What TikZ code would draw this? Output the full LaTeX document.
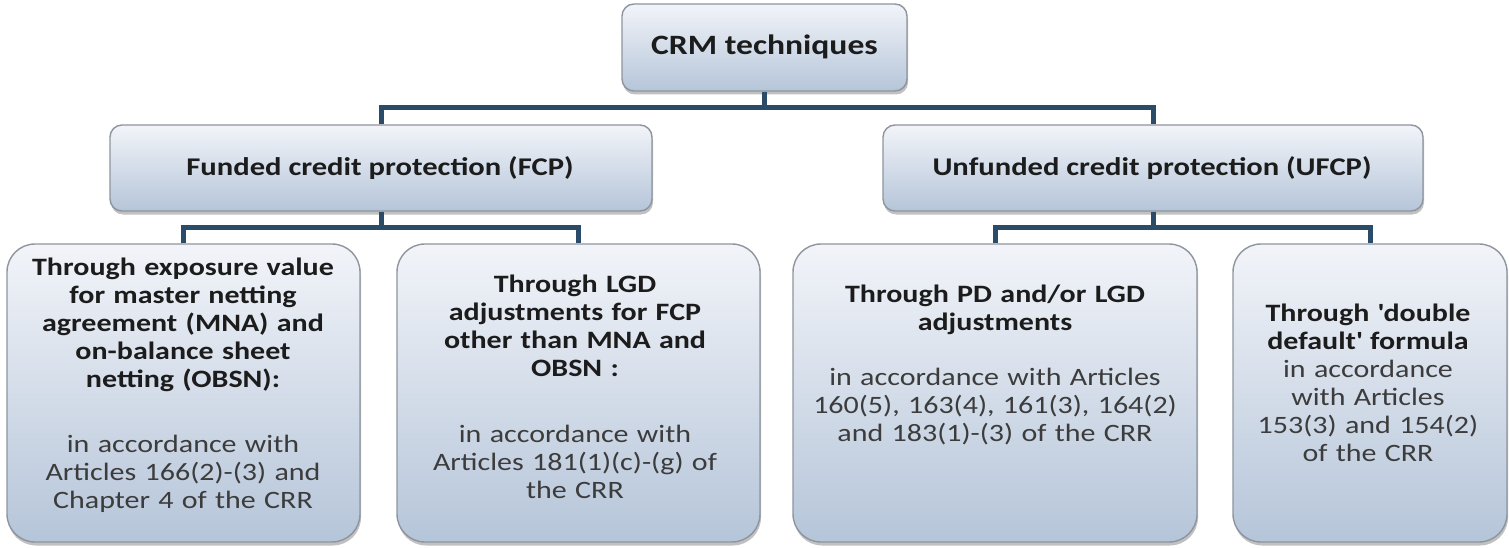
\documentclass[tikz,border=0pt]{standalone}
\usepackage{fontspec}
\setmainfont{Carlito}[FakeStretch=1.2]
\usetikzlibrary{shadows}

\definecolor{boxtop}{HTML}{F2F4F9}
\definecolor{boxbot}{HTML}{B5C5D9}
\definecolor{boxline}{HTML}{8E959E}
\definecolor{linkcol}{HTML}{2B4C68}
\definecolor{headtxt}{HTML}{1C1C1C}
\definecolor{bodytxt}{HTML}{3C3C3C}

\tikzset{
  panel/.style={draw=boxline, line width=1.4pt, top color=boxtop, bottom color=boxbot,
    inner sep=0pt, drop shadow={shadow xshift=1pt, shadow yshift=-3.5pt, opacity=0.35, fill=black!70}},
  topbox/.style={panel, rounded corners=12pt},
  leafbox/.style={panel, rounded corners=28pt},
  link/.style={draw=linkcol, line width=5pt},
  toptext/.style={font=\fontsize{28}{32}\selectfont\bfseries, text=headtxt, inner sep=0pt, anchor=base},
  midtext/.style={font=\fontsize{25.5}{30}\selectfont\bfseries, text=headtxt, inner sep=0pt, anchor=base},
  leaftext/.style={font=\fontsize{25}{28}\selectfont\bfseries, text=headtxt, inner sep=0pt,
    anchor=north, align=center},
}
\newcommand{\firstline}{\rule{0pt}{21pt}}

\begin{document}
\begin{tikzpicture}[x=1pt, y=-1pt]
\useasboundingbox (0,0) rectangle (1509,548);

% boxes
\node[topbox, minimum width=285pt, minimum height=87pt] (crm) at (764.5,47.5) {};
\node[topbox, minimum width=542pt, minimum height=86pt] (fcp) at (381,168) {};
\node[topbox, minimum width=540pt, minimum height=86pt] (ufcp) at (1153,168) {};
\node[leafbox, minimum width=353pt, minimum height=298pt] (b1) at (183.5,393) {};
\node[leafbox, minimum width=363pt, minimum height=298pt] (b2) at (578.5,393) {};
\node[leafbox, minimum width=404pt, minimum height=298pt] (b3) at (995,393) {};
\node[leafbox, minimum width=274pt, minimum height=298pt] (b4) at (1370,393) {};

% connectors
\draw[link] (crm.south) -- ++(0,16) coordinate (j0);
\draw[link] (fcp.north) |- (j0) -| (ufcp.north);
\draw[link] (fcp.south) -- ++(0,16) coordinate (j1);
\draw[link] (b1.north) |- (j1) -| (b2.north);
\draw[link] (ufcp.south) -- ++(0,16) coordinate (j2);
\draw[link] (b3.north) |- (j2) -| (b4.north);

% labels
\node[toptext] (crmtxt) at (764.5,55) {CRM techniques};
\node[midtext] (fcptxt) at (380,176) {Funded credit protection (FCP)};
\node[midtext] (ufcptxt) at (1152,176) {Unfunded credit protection (UFCP)};

\node[leaftext, text width=340pt] (t1) at (183,254) {\firstline Through exposure value\\ for master netting\\ agreement (MNA) and\\ on-balance sheet\\ netting (OBSN):\\[37pt]
  \mdseries\color{bodytxt}in accordance with\\ Articles 166(2)-(3) and\\ Chapter 4 of the CRR};
\node[leaftext, text width=350pt] (t2) at (575,271) {\firstline Through LGD\\ adjustments for FCP\\ other than MNA and\\ OBSN :\\[38pt]
  \mdseries\color{bodytxt}in accordance with\\ Articles 181(1)(c)-(g) of\\ the CRR};
\node[leaftext, text width=390pt] (t3) at (995,281) {\firstline Through PD and/or LGD\\ adjustments\\[27pt]
  \mdseries\color{bodytxt}in accordance with Articles\\ 160(5), 163(4), 161(3), 164(2)\\ and 183(1)-(3) of the CRR};
\node[leaftext, text width=262pt] (t4) at (1368,300) {\firstline Through \textquotesingle double\\ default\textquotesingle\ formula\\
  \mdseries\color{bodytxt}in accordance\\ with Articles\\ 153(3) and 154(2)\\ of the CRR};
\end{tikzpicture}
\end{document}
